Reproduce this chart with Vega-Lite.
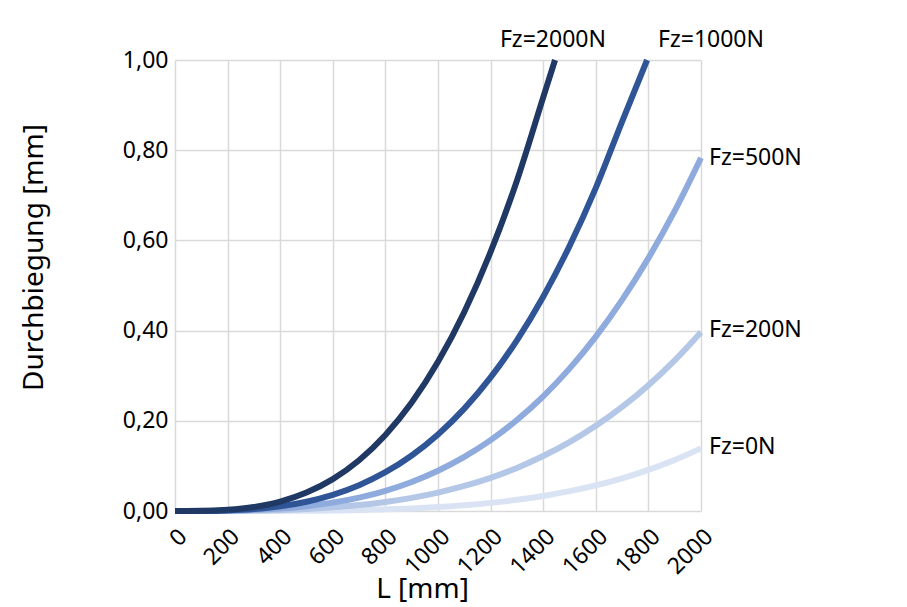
{
  "$schema": "https://vega.github.io/schema/vega-lite/v6.json",
  "width": 526,
  "height": 451,
  "autosize": "none",
  "padding": {"left": 175, "top": 60, "right": 206, "bottom": 96},
  "background": "white",
  "config": {
    "view": {"stroke": null},
    "font": "Noto Sans",
    "locale": {"number": {"decimal": ",", "thousands": ".", "grouping": [3], "currency": ["", " €"]}}
  },
  "datasets": {
    "curves": [
      {"s": "Fz=0N", "L": 0, "d": 0}, {"s": "Fz=0N", "L": 100, "d": 0}, {"s": "Fz=0N", "L": 200, "d": 0}, {"s": "Fz=0N", "L": 300, "d": 0.0001}, {"s": "Fz=0N", "L": 400, "d": 0.0002}, {"s": "Fz=0N", "L": 500, "d": 0.0005}, {"s": "Fz=0N", "L": 600, "d": 0.0011}, {"s": "Fz=0N", "L": 700, "d": 0.0021}, {"s": "Fz=0N", "L": 800, "d": 0.0036}, {"s": "Fz=0N", "L": 900, "d": 0.0057}, {"s": "Fz=0N", "L": 1000, "d": 0.0087}, {"s": "Fz=0N", "L": 1100, "d": 0.0127}, {"s": "Fz=0N", "L": 1200, "d": 0.018}, {"s": "Fz=0N", "L": 1300, "d": 0.0248}, {"s": "Fz=0N", "L": 1400, "d": 0.0334}, {"s": "Fz=0N", "L": 1500, "d": 0.044}, {"s": "Fz=0N", "L": 1600, "d": 0.0569}, {"s": "Fz=0N", "L": 1700, "d": 0.0726}, {"s": "Fz=0N", "L": 1800, "d": 0.0912}, {"s": "Fz=0N", "L": 1900, "d": 0.1132}, {"s": "Fz=0N", "L": 2000, "d": 0.139},
      {"s": "Fz=200N", "L": 0, "d": 0}, {"s": "Fz=200N", "L": 100, "d": 0}, {"s": "Fz=200N", "L": 200, "d": 0.0003}, {"s": "Fz=200N", "L": 300, "d": 0.001}, {"s": "Fz=200N", "L": 400, "d": 0.0023}, {"s": "Fz=200N", "L": 500, "d": 0.0045}, {"s": "Fz=200N", "L": 600, "d": 0.0081}, {"s": "Fz=200N", "L": 700, "d": 0.0131}, {"s": "Fz=200N", "L": 800, "d": 0.0201}, {"s": "Fz=200N", "L": 900, "d": 0.0292}, {"s": "Fz=200N", "L": 1000, "d": 0.0409}, {"s": "Fz=200N", "L": 1100, "d": 0.0556}, {"s": "Fz=200N", "L": 1200, "d": 0.0736}, {"s": "Fz=200N", "L": 1300, "d": 0.0955}, {"s": "Fz=200N", "L": 1400, "d": 0.1218}, {"s": "Fz=200N", "L": 1500, "d": 0.1527}, {"s": "Fz=200N", "L": 1600, "d": 0.1888}, {"s": "Fz=200N", "L": 1700, "d": 0.2308}, {"s": "Fz=200N", "L": 1800, "d": 0.279}, {"s": "Fz=200N", "L": 1900, "d": 0.3341}, {"s": "Fz=200N", "L": 2000, "d": 0.3966},
      {"s": "Fz=500N", "L": 0, "d": 0}, {"s": "Fz=500N", "L": 100, "d": 0.0001}, {"s": "Fz=500N", "L": 200, "d": 0.0006}, {"s": "Fz=500N", "L": 300, "d": 0.0023}, {"s": "Fz=500N", "L": 400, "d": 0.0054}, {"s": "Fz=500N", "L": 500, "d": 0.0106}, {"s": "Fz=500N", "L": 600, "d": 0.0185}, {"s": "Fz=500N", "L": 700, "d": 0.0297}, {"s": "Fz=500N", "L": 800, "d": 0.0448}, {"s": "Fz=500N", "L": 900, "d": 0.0644}, {"s": "Fz=500N", "L": 1000, "d": 0.0892}, {"s": "Fz=500N", "L": 1100, "d": 0.1199}, {"s": "Fz=500N", "L": 1200, "d": 0.1571}, {"s": "Fz=500N", "L": 1300, "d": 0.2017}, {"s": "Fz=500N", "L": 1400, "d": 0.2543}, {"s": "Fz=500N", "L": 1500, "d": 0.3157}, {"s": "Fz=500N", "L": 1600, "d": 0.3866}, {"s": "Fz=500N", "L": 1700, "d": 0.4681}, {"s": "Fz=500N", "L": 1800, "d": 0.5607}, {"s": "Fz=500N", "L": 1900, "d": 0.6654}, {"s": "Fz=500N", "L": 2000, "d": 0.783},
      {"s": "Fz=1000N", "L": 0, "d": 0}, {"s": "Fz=1000N", "L": 100, "d": 0.0002}, {"s": "Fz=1000N", "L": 200, "d": 0.0013}, {"s": "Fz=1000N", "L": 300, "d": 0.0044}, {"s": "Fz=1000N", "L": 400, "d": 0.0105}, {"s": "Fz=1000N", "L": 500, "d": 0.0206}, {"s": "Fz=1000N", "L": 600, "d": 0.0359}, {"s": "Fz=1000N", "L": 700, "d": 0.0573}, {"s": "Fz=1000N", "L": 800, "d": 0.086}, {"s": "Fz=1000N", "L": 900, "d": 0.1231}, {"s": "Fz=1000N", "L": 1000, "d": 0.1697}, {"s": "Fz=1000N", "L": 1100, "d": 0.227}, {"s": "Fz=1000N", "L": 1200, "d": 0.2962}, {"s": "Fz=1000N", "L": 1300, "d": 0.3785}, {"s": "Fz=1000N", "L": 1400, "d": 0.4752}, {"s": "Fz=1000N", "L": 1500, "d": 0.5874}, {"s": "Fz=1000N", "L": 1600, "d": 0.7164}, {"s": "Fz=1000N", "L": 1700, "d": 0.8636}, {"s": "Fz=1000N", "L": 1795, "d": 1.0},
      {"s": "Fz=2000N", "L": 0, "d": 0}, {"s": "Fz=2000N", "L": 100, "d": 0.0003}, {"s": "Fz=2000N", "L": 200, "d": 0.0026}, {"s": "Fz=2000N", "L": 300, "d": 0.0088}, {"s": "Fz=2000N", "L": 400, "d": 0.0208}, {"s": "Fz=2000N", "L": 500, "d": 0.0408}, {"s": "Fz=2000N", "L": 600, "d": 0.0707}, {"s": "Fz=2000N", "L": 700, "d": 0.1125}, {"s": "Fz=2000N", "L": 800, "d": 0.1685}, {"s": "Fz=2000N", "L": 900, "d": 0.2404}, {"s": "Fz=2000N", "L": 1000, "d": 0.3307}, {"s": "Fz=2000N", "L": 1100, "d": 0.4413}, {"s": "Fz=2000N", "L": 1200, "d": 0.5744}, {"s": "Fz=2000N", "L": 1300, "d": 0.7322}, {"s": "Fz=2000N", "L": 1400, "d": 0.917}, {"s": "Fz=2000N", "L": 1445, "d": 1.0}
    ],
    "labels": [
      {"s": "Fz=2000N", "L": 1205, "d": 1.044},
      {"s": "Fz=1000N", "L": 1806, "d": 1.044},
      {"s": "Fz=500N", "L": 2000, "d": 0.783},
      {"s": "Fz=200N", "L": 2000, "d": 0.402},
      {"s": "Fz=0N", "L": 2000, "d": 0.142}
    ]
  },
  "encoding": {
    "x": {
      "field": "L", "type": "quantitative",
      "scale": {"domain": [0, 2000], "nice": false, "zero": false},
      "axis": {
        "values": [0, 200, 400, 600, 800, 1000, 1200, 1400, 1600, 1800, 2000],
        "format": "d",
        "labelAngle": -45, "labelFontSize": 23, "labelColor": "#000000",
        "labelFlush": false, "labelOverlap": false, "labelPadding": 14,
        "ticks": false, "domain": false,
        "gridColor": "#d9d9d9", "gridWidth": 1.5,
        "title": "L [mm]", "titleFontSize": 28, "titleFontWeight": "normal", "titleColor": "#000000",
        "titlePadding": -3, "titleX": 247
      }
    },
    "y": {
      "field": "d", "type": "quantitative",
      "scale": {"domain": [0, 1], "nice": false},
      "axis": {
        "values": [0, 0.2, 0.4, 0.6, 0.8, 1],
        "format": ".2f", "labelFontSize": 23, "labelColor": "#000000", "labelPadding": 7,
        "labelFlush": false, "labelOverlap": false,
        "ticks": false, "domain": false,
        "gridColor": "#d9d9d9", "gridWidth": 1.5,
        "title": "Durchbiegung [mm]", "titleFontSize": 28, "titleFontWeight": "normal", "titleColor": "#000000",
        "titlePadding": 74, "titleY": 197
      }
    }
  },
  "layer": [
    {
      "data": {"name": "curves"},
      "mark": {"type": "line", "strokeWidth": 6, "interpolate": "monotone"},
      "encoding": {
        "color": {
          "field": "s", "type": "nominal",
          "scale": {
            "domain": ["Fz=0N", "Fz=200N", "Fz=500N", "Fz=1000N", "Fz=2000N"],
            "range": ["#dae3f3", "#b4c7e7", "#8faadc", "#2f5597", "#1f3864"]
          },
          "legend": null
        }
      }
    },
    {
      "data": {"name": "labels"},
      "mark": {"type": "text", "align": "left", "baseline": "middle", "dx": 8, "fontSize": 23, "color": "#000000"},
      "encoding": {
        "text": {"field": "s"}
      }
    }
  ]
}
